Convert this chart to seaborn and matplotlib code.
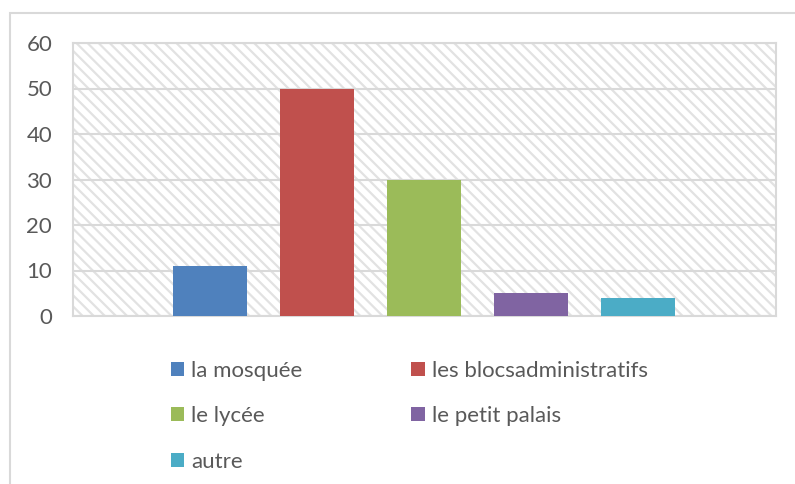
import matplotlib
matplotlib.use("Agg")
import matplotlib.pyplot as plt
from matplotlib.patches import Rectangle, Patch
import seaborn as sns
import pandas as pd

categories = ["la mosquée", "les blocsadministratifs", "le lycée", "le petit palais", "autre"]
values = [11, 50, 30, 5, 4]
colors = ["#4f81bd", "#c0504d", "#9bbb59", "#8064a2", "#4bacc6"]
yticks = [0, 10, 20, 30, 40, 50, 60]

sns.set_style("white")
plt.rcParams["font.family"] = ["Lato", "DejaVu Sans"]
plt.rcParams["hatch.linewidth"] = 1.6

text_color = "#595959"
grid_color = "#d9d9d9"
hatch_color = "#e2e2e2"

fig = plt.figure(figsize=(7.95, 4.84), dpi=100)
ax = fig.add_axes([73 / 795, 1 - 316 / 484, (776 - 73) / 795, (316 - 43) / 484])

# chart-area frame
fig.patches.append(Rectangle((10 / 795, -0.1), 1.2, 1 - 13 / 484 + 0.1,
                             transform=fig.transFigure, fill=False,
                             edgecolor=grid_color, linewidth=1.5, zorder=0))

# diagonal hatched plot-area background
ax.add_patch(Rectangle((0, 0), 1, 1, transform=ax.transAxes, facecolor="white",
                       hatch="\\\\\\", edgecolor=hatch_color, linewidth=0, zorder=0))

df = pd.DataFrame({"cat": categories, "val": values})
sns.barplot(data=df, x="cat", y="val", hue="cat", palette=colors,
            order=categories, hue_order=categories, width=0.70,
            legend=False, ax=ax, zorder=3, saturation=1, linewidth=0)

ax.set_xlim(-1.28, 5.29)
ax.set_ylim(0, 60)
ax.set_yticks(yticks)
ax.set_yticklabels([str(t) for t in yticks])
ax.set_xticks([])
ax.set_xlabel("")
ax.set_ylabel("")
ax.yaxis.grid(True, color=grid_color, linewidth=1.5, zorder=1)
ax.set_axisbelow(True)
ax.tick_params(axis="y", length=0, pad=15, labelsize=16, labelcolor=text_color)
for side in ["left", "right", "top", "bottom"]:
    ax.spines[side].set_visible(True)
    ax.spines[side].set_color(grid_color)
    ax.spines[side].set_linewidth(1.5)

handles = [Patch(facecolor=c, edgecolor="none") for c in colors]
order = [0, 2, 4, 1, 3]
leg = fig.legend([handles[i] for i in order], [categories[i] for i in order],
                 ncol=2, loc="upper left", bbox_to_anchor=(162 / 795, 1 - 352 / 484),
                 frameon=False, fontsize=16, labelcolor=text_color,
                 handlelength=0.6, handleheight=0.6, handletextpad=0.32,
                 columnspacing=4.9, labelspacing=1.14, borderaxespad=0)

fig.savefig("out.png", dpi=100)
